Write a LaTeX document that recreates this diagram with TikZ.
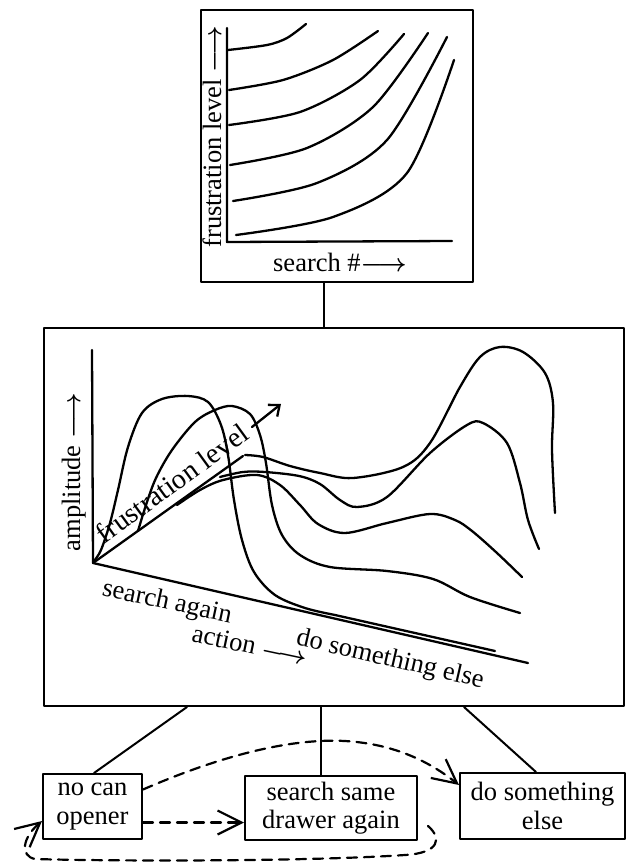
\documentclass[tikz,border=0pt]{standalone}
\usepackage{fontspec}
\setmainfont{Liberation Serif}
\usetikzlibrary{arrows.meta}
\newcommand{\larr}{{\boldmath$\longrightarrow$}}
\begin{document}
\begin{tikzpicture}[x=1pt,y=-1pt, line join=round, line cap=round,
  box/.style={draw, line width=2pt, inner sep=0pt},
  txt/.style={font=\fontsize{26.5}{28.5}\selectfont, align=center, inner sep=0pt},
  bigtxt/.style={font=\fontsize{28.4}{30}\selectfont, inner sep=0pt},
  crv/.style={line width=2.3pt},
  lnk/.style={line width=2pt},
  dsh/.style={line width=2.2pt, dash pattern=on 10pt off 7pt,
    -{Straight Barb[length=24pt,width=24pt,line width=2.2pt]}}]
\useasboundingbox (0,0) rectangle (630,862);

% boxes
\node[box, minimum width=272pt, minimum height=272pt] (topbox) at (337,146) {};
\node[box, minimum width=580pt, minimum height=378pt] (midbox) at (334,517) {};
\node[box, txt, minimum width=99pt, minimum height=65pt] (noc) at (92.5,806.5) {no can\\opener};
\node[box, txt, minimum width=172pt, minimum height=64pt] (ssd) at (331,808) {search same\\drawer again};
\node[box, txt, minimum width=165pt, minimum height=66pt] (dse) at (542.5,806) {do something\\else};

% tree connectors
\draw[lnk] ([xshift=124pt]topbox.south west) -- ([xshift=281pt]midbox.north west);
\draw[lnk] ([xshift=144pt]midbox.south west) -- ([xshift=52pt]noc.north west);
\draw[lnk] ([xshift=278pt]midbox.south west) -- ([xshift=77pt]ssd.north west);
\draw[lnk] ([xshift=421pt]midbox.south west) -- ([xshift=77pt]dse.north west);

% top plot
\draw[crv] (227,28) -- (227,242) -- (452,241);
\draw[crv] plot[smooth] coordinates {(228,50) (267,45) (287,38) (306,24)};
\draw[crv] plot[smooth] coordinates {(229,90) (283,80) (333,60) (378,31)};
\draw[crv] plot[smooth] coordinates {(229,125) (300,112) (360,80) (404,34)};
\draw[crv] plot[smooth] coordinates {(230,165) (307,148) (373,107) (428,33)};
\draw[crv] plot[smooth] coordinates {(233,201) (317,183) (387,140) (447,37)};
\draw[crv] plot[smooth] coordinates {(236,235) (333,217) (407,173) (454,60)};
\node[txt, rotate=90, anchor=base] (lfl) at (221,137) {frustration level \larr};
\node[txt] (lsn) at (340,262) {search \#\larr};

% middle plot
\draw[crv] (92,350) -- (93,563) -- (528,663);
\draw[crv] (93,563) -- (243,456);
\node[txt, rotate=90, anchor=base] (lamp) at (80,472) {amplitude \larr};
\node[bigtxt, rotate=36, anchor=base] (lfl2) at (178,491) {frustration level};
\draw[crv, -{Straight Barb[length=9pt,width=15pt]}] (252,427) -- (281,404);
\node[txt, rotate=-12] (lsa) at (167,603) {search again};
\node[txt, rotate=-12] (lact) at (250,645) {action \larr};
\node[txt, rotate=-13] (ldse) at (390,660) {do something else};

% curve A
\draw[crv] plot[smooth, tension=0.55] coordinates {(94,561) (101,550) (110,523) (118,490) (128,447) (142,413) (162,399) (188,396) (208,402) (221,425) (228,455) (234,500) (242,540) (254,572) (275,595) (305,608) (335,615)} -- (495,651);
% curve B
\draw[crv] plot[smooth, tension=0.55] coordinates {(138,531) (146,505) (156,478) (172,450) (195,422) (215,410) (232,406) (250,414) (260,435) (266,463) (272,505) (282,535) (300,555) (330,567) (387,571) (433,579) (470,597) (520,613)};
% curve C
\draw[crv] plot[smooth, tension=0.55] coordinates {(245,455) (263,457) (290,466) (320,473) (353,478) (403,467) (430,443) (460,387) (480,357) (500,347) (523,352) (545,373) (553,403) (552,450) (555,513)};
% curve D
\draw[crv] plot[smooth, tension=0.55] coordinates {(220,477) (243,472) (265,472) (299,476) (320,484) (340,500) (357,507) (387,497) (430,453) (467,425) (483,423) (507,443) (520,483) (528,520) (539,549)};
% curve E
\draw[crv] plot[smooth, tension=0.55] coordinates {(177,505) (200,490) (223,480) (257,475) (280,485) (300,505) (318,524) (345,533) (387,523) (430,514) (455,520) (472,531) (497,553) (522,577)};

% dashed arrows
\coordinate (d1s) at ([yshift=17pt]noc.east);
\coordinate (d1e) at ([yshift=21pt]dse.west);
\draw[dsh] (d1s) .. controls (220,756) and (290,738) .. (345,741) .. controls (395,744) and (430,762) .. (d1e);
\coordinate (d2s) at ([yshift=-16pt]noc.east);
\draw[dsh] (d2s) -- (d2s -| ssd.west);
\coordinate (d3s) at ([xshift=10pt,yshift=15pt]ssd.south east);
\coordinate (d3e) at ([yshift=19pt]noc.south west);
\draw[dsh] (d3s) .. controls (442,838) and (440,853) .. (405,855) .. controls (300,862) and (100,861) .. (35,859) .. controls (20,856) and (22,838) .. (d3e);
\end{tikzpicture}
\end{document}
